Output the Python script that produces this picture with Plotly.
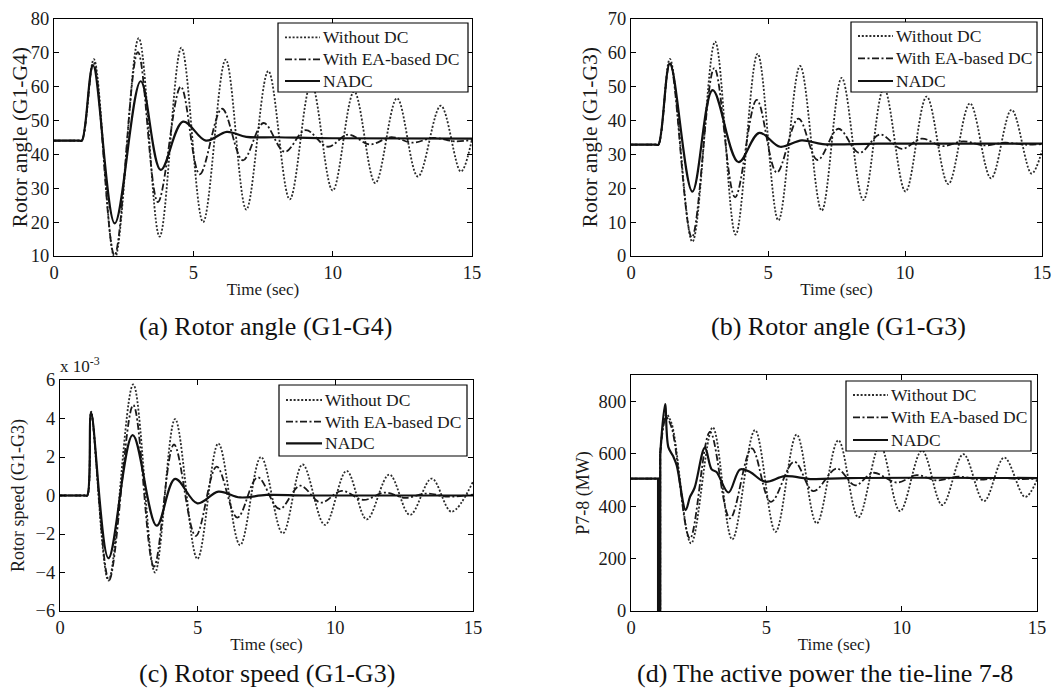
import plotly.graph_objects as go

FONT = "Liberation Serif, Times New Roman, serif"
PAGE_OFF = 8             # the page body adds an 8 px margin around the figure
W, H = 1064 - PAGE_OFF, 693 - PAGE_OFF
NAMES = ["Without DC", "With EA-based DC", "NADC"]

# ---------------- (a) Rotor angle (G1-G4) ----------------
a_t_wo = [0, 0.9, 1.0, 1.43, 2.18, 3.04, 3.79, 4.57, 5.35, 6.16, 6.9, 7.69, 8.46, 9.23, 10.0, 10.77, 11.53, 12.31, 13.06, 13.88, 14.6, 15]
a_y_wo = [44, 44, 44, 68, 9.3, 74.2, 15.7, 71.4, 20, 67.9, 23.7, 64.5, 26.7, 61, 29.3, 58.5, 31.5, 56.5, 33.4, 54.3, 34.9, 44.5]
a_t_ea = [0, 0.9, 1.0, 1.42, 2.17, 3.01, 3.73, 4.55, 5.23, 6.03, 6.78, 7.52, 8.28, 9.03, 9.83, 10.55, 11.33, 12.1, 12.88, 13.6, 14.4, 15]
a_y_ea = [44, 44, 44, 67, 10.2, 70.1, 25.9, 59.9, 34.1, 53.4, 38.2, 49.2, 40.7, 47.1, 42.2, 45.8, 42.9, 45.0, 43.4, 44.8, 43.8, 44.2]
a_t_na = [0, 0.9, 1.0, 1.4, 2.18, 3.11, 3.83, 4.63, 5.45, 6.2, 6.9, 8.0, 10, 15]
a_y_na = [44, 44, 44, 66.2, 19.6, 61.5, 35.4, 49.6, 44.0, 46.6, 45.1, 45.0, 44.7, 44.6]

# ---------------- (b) Rotor angle (G1-G3) ----------------
b_t_wo = [0, 0.9, 1.0, 1.42, 2.24, 3.07, 3.82, 4.62, 5.38, 6.17, 6.96, 7.69, 8.48, 9.23, 10.02, 10.79, 11.58, 12.37, 13.14, 13.89, 14.62, 15]
b_y_wo = [32.8, 32.8, 32.8, 58.1, 4.2, 63.2, 6.3, 59.6, 10.5, 56.0, 13.4, 52.5, 16.5, 49.5, 19, 47, 21.2, 45, 22.9, 43.1, 24.3, 31]
b_t_ea = [0, 0.9, 1.0, 1.42, 2.22, 3.04, 3.8, 4.59, 5.32, 6.11, 6.81, 7.57, 8.33, 9.09, 9.88, 10.61, 11.36, 12.13, 12.9, 13.65, 14.4, 15]
b_y_ea = [32.8, 32.8, 32.8, 57, 5.5, 55.4, 17.3, 46, 24.6, 40.5, 28.3, 37.5, 30.4, 35.8, 31.6, 34.6, 32.4, 33.8, 32.6, 33.4, 32.8, 33]
b_t_na = [0, 0.9, 1.0, 1.42, 2.24, 2.98, 3.92, 4.68, 5.44, 6.23, 7.0, 9, 15]
b_y_na = [32.8, 32.8, 32.8, 56.7, 19, 48.9, 27.7, 36.3, 32.2, 34.1, 33.0, 33.1, 33.1]

# ---------------- (c) Rotor speed (G1-G3), values in units of 1e-3 ----------------
c_t_wo = [0, 0.9, 0.99, 1.13, 1.76, 2.66, 3.45, 4.18, 4.99, 5.75, 6.54, 7.3, 8.09, 8.81, 9.62, 10.41, 11.14, 11.96, 12.71, 13.5, 14.22, 15]
c_y_wo = [0, 0, 0, 4.35, -4.42, 5.77, -4.0, 3.97, -3.29, 2.7, -2.58, 2.0, -1.97, 1.61, -1.53, 1.28, -1.24, 1.09, -1.01, 0.88, -0.84, 0.72]
c_t_ea = [0, 0.9, 0.99, 1.13, 1.78, 2.66, 3.41, 4.14, 4.93, 5.69, 6.44, 7.18, 7.97, 8.72, 9.47, 10.23, 11.02, 11.8, 12.55, 13.3, 14.1, 15]
c_y_ea = [0, 0, 0, 4.3, -4.4, 4.7, -3.7, 2.65, -2.1, 1.5, -1.15, 0.94, -0.7, 0.51, -0.37, 0.24, -0.23, 0.15, -0.12, 0.1, -0.06, 0.05]
c_t_na = [0, 0.9, 0.99, 1.13, 1.76, 2.64, 3.51, 4.18, 4.99, 5.75, 6.54, 7.5, 9, 15]
c_y_na = [0, 0, 0, 4.3, -3.26, 3.14, -1.57, 0.86, -0.41, 0.2, -0.1, 0.03, 0, 0]

# ---------------- (d) Active power of tie-line 7-8 (MW) ----------------
d_t_fault = [0, 1.0, 1.0, 1.08, 1.08]
d_y_fault = [505, 505, 0, 0, 600]
d_t_wo = [1.08, 1.3, 1.5, 2.22, 3.02, 3.74, 4.58, 5.34, 6.12, 6.86, 7.66, 8.4, 9.2, 9.94, 10.75, 11.5, 12.28, 13.04, 13.79, 14.56, 15]
d_y_wo = [600, 750, 715, 258, 700, 273, 690, 302, 673, 334, 651, 357, 632, 381, 612, 404, 598, 419, 585, 435, 500]
d_t_ea = [1.08, 1.3, 1.5, 2.18, 2.92, 3.66, 4.46, 5.17, 6.03, 6.74, 7.6, 8.28, 8.95, 9.82, 10.55, 11.3, 12.1, 12.9, 13.6, 14.4, 15]
d_y_ea = [600, 738, 700, 277, 683, 353, 620, 416, 569, 457, 543, 479, 527, 490, 518, 498, 512, 501, 508, 503, 505]
d_t_na = [1.08, 1.26, 1.38, 1.56, 1.69, 2.02, 2.18, 2.35, 2.73, 2.98, 3.16, 3.6, 4.03, 4.4, 4.95, 5.69, 6.7, 8, 15]
d_y_na = [600, 789, 625, 590, 555, 385, 435, 470, 623, 540, 530, 452, 540, 530, 493, 514, 503, 507, 507]

x_ticks = [0, 5, 10, 15]
captions = ["(a) Rotor angle (G1-G4)", "(b) Rotor angle (G1-G3)",
            "(c) Rotor speed (G1-G3)", "(d) The active power the tie-line 7-8"]
y_titles = ["Rotor angle (G1-G4)", "Rotor angle (G1-G3)", "Rotor speed (G1-G3)", "P7-8 (MW)"]

STYLE = {
    "Without DC": dict(color="#2b2b2b", width=1.8, dash="2px,1.8px"),
    "With EA-based DC": dict(color="#1a1a1a", width=1.8, dash="7px,2.5px,2px,2.5px"),
    "NADC": dict(color="#111111", width=2.2, dash="solid"),
}

# panel geometry in screen pixels: plot box, legend box, legend rows, caption centre
panels = [
    dict(px=(54, 472, 18.5, 256), yr=[10, 80], yt=list(range(10, 81, 10)), ytf=21.5, ystand=4,
         data=[(a_t_wo, a_y_wo), (a_t_ea, a_y_ea), (a_t_na, a_y_na)],
         box=(278, 23, 468, 92), rows=[37.3, 59.3, 81], samp=(285, 320), cap=(265, 326)),
    dict(px=(631, 1042, 18.5, 256), yr=[0, 70], yt=list(range(0, 71, 10)), ytf=21.5, ystand=4,
         data=[(b_t_wo, b_y_wo), (b_t_ea, b_y_ea), (b_t_na, b_y_na)],
         box=(851, 22, 1037, 92), rows=[36, 58.3, 81], samp=(858, 893), cap=(838, 326)),
    dict(px=(60, 473, 380, 611), yr=[-6, 6], yt=[-6, -4, -2, 0, 2, 4, 6], ytf=18, ystand=6,
         data=[(c_t_wo, c_y_wo), (c_t_ea, c_y_ea), (c_t_na, c_y_na)],
         box=(279, 385, 467, 456), rows=[400, 421.7, 443.3], samp=(286, 322), cap=(267, 673)),
    dict(px=(631, 1037, 375, 611), yr=[0, 900], yt=[0, 200, 400, 600, 800], ytf=18, ystand=4,
         data=[(d_t_wo, d_y_wo), (d_t_ea, d_y_ea), (d_t_na, d_y_na)],
         box=(846, 381, 1031, 451), rows=[395, 417.3, 440], samp=(853, 888), cap=(825, 673)),
]


def fx(X):
    return (X - PAGE_OFF) / W


def fy(Y):
    return 1 - (Y - PAGE_OFF) / H


fig = go.Figure()
layout = dict(width=W, height=H, margin=dict(l=0, r=0, t=0, b=0, pad=0),
              paper_bgcolor="white", plot_bgcolor="white", showlegend=False,
              font=dict(family=FONT, color="#1a1a1a"), annotations=[], shapes=[])

for i, p in enumerate(panels):
    k = "" if i == 0 else str(i + 1)
    l, r, t, b = p["px"]
    xa, ya = "x" + k, "y" + k
    if i == 3:
        for name in NAMES:
            fig.add_trace(go.Scatter(x=d_t_fault, y=d_y_fault, mode="lines", xaxis=xa, yaxis=ya,
                                     name=name, line=dict(**STYLE[name]), hoverinfo="skip"))
    for name, (tx, vy) in zip(NAMES, p["data"]):
        fig.add_trace(go.Scatter(x=tx, y=vy, mode="lines", name=name, xaxis=xa, yaxis=ya,
                                 line=dict(shape="spline", smoothing=1.0, **STYLE[name])))
    common = dict(showline=True, linecolor="black", linewidth=1, mirror="ticks", automargin=False,
                  ticks="inside", ticklen=5, tickcolor="black", showgrid=False, zeroline=False,
                  ticklabeloverflow="allow",
                  tickfont=dict(family=FONT, size=18.5, color="#1a1a1a"))
    layout["xaxis" + k] = dict(domain=[fx(l), fx(r)], anchor=ya, range=[0, 15], tickvals=x_ticks,
                               title=dict(text="Time (sec)", font=dict(size=17), standoff=0), **common)
    layout["yaxis" + k] = dict(domain=[fy(b), fy(t)], anchor=xa, range=p["yr"], tickvals=p["yt"],
                               title=dict(text=y_titles[i], font=dict(size=p["ytf"]), standoff=p["ystand"]),
                               **common)

    # legend box drawn on the paper
    bl, bt, br, bb = p["box"]
    layout["shapes"].append(dict(type="rect", xref="paper", yref="paper", x0=fx(bl), y0=fy(bb),
                                 x1=fx(br), y1=fy(bt), fillcolor="white",
                                 line=dict(color="black", width=1.2), layer="above"))
    s0, s1 = p["samp"]
    for name, ry in zip(NAMES, p["rows"]):
        st = STYLE[name]
        layout["shapes"].append(dict(type="line", xref="paper", yref="paper",
                                     x0=fx(s0), x1=fx(s1), y0=fy(ry), y1=fy(ry),
                                     line=dict(color=st["color"], width=st["width"], dash=st["dash"]),
                                     layer="above"))
        layout["annotations"].append(dict(text=name, x=fx(s1 + 1), y=fy(ry), xref="paper", yref="paper",
                                          xanchor="left", yanchor="middle", showarrow=False,
                                          font=dict(family=FONT, size=17.5, color="#1a1a1a")))

    cx, cy = p["cap"]
    layout["annotations"].append(dict(text=captions[i], x=fx(cx), y=fy(cy), xref="paper", yref="paper",
                                      xanchor="center", yanchor="middle", showarrow=False,
                                      font=dict(family=FONT, size=26, color="#111111")))

layout["annotations"].append(dict(text="x 10<sup>-3</sup>", x=fx(58), y=fy(378), xref="paper", yref="paper",
                                  xanchor="left", yanchor="bottom", showarrow=False,
                                  font=dict(family=FONT, size=17, color="#1a1a1a")))

fig.update_layout(**layout)
fig.write_html("out.html")
